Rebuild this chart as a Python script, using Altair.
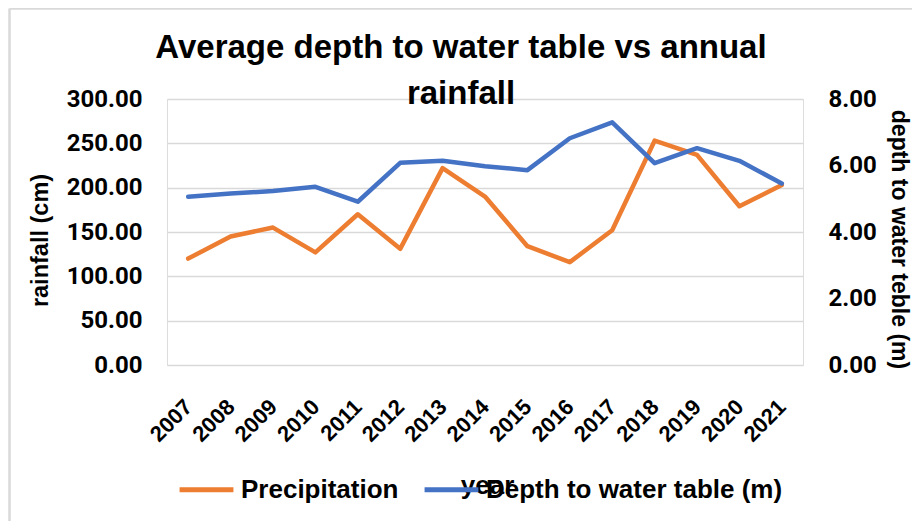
import altair as alt
import pandas as pd

years = ["2007", "2008", "2009", "2010", "2011", "2012", "2013", "2014",
         "2015", "2016", "2017", "2018", "2019", "2020", "2021"]
precipitation = [120, 145, 155, 127, 170, 131, 222, 190, 134, 116, 152, 253, 237, 179, 203]
depth = [5.06, 5.16, 5.23, 5.36, 4.91, 6.08, 6.14, 5.98, 5.86, 6.82, 7.30, 6.07, 6.52, 6.14, 5.46]
series_names = ["Precipitation", "Depth to water table (m)"]
series_colors = ["#ED7D31", "#4472C4"]
rain_ticks = [0, 50, 100, 150, 200, 250, 300]
depth_ticks = [0, 2, 4, 6, 8]
title_lines = ["Average depth to water table vs annual", "rainfall"]

df = pd.DataFrame({
    "year": years + years,
    "value": precipitation + depth,
    "series": [series_names[0]] * len(years) + [series_names[1]] * len(years),
})

BOLD = "Liberation Sans, Arial, sans-serif"
NUM = "Roboto, Liberation Sans, sans-serif"

color = alt.Color(
    "series:N",
    scale=alt.Scale(domain=series_names, range=series_colors),
    legend=alt.Legend(
        title=None, orient="none", legendX=10, legendY=361, direction="horizontal",
        symbolType="stroke", symbolSize=2900, symbolStrokeWidth=5,
        labelFont=BOLD, labelFontSize=26, labelFontWeight="bold", labelColor="black",
        labelOffset=5, columnPadding=15, labelLimit=400,
    ),
)

x = alt.X(
    "year:O", sort=years,
    axis=alt.Axis(
        title="year", titleFont=BOLD, titleFontSize=26, titleFontWeight="bold",
        titleColor="black", titleX=320, titleY=120, titleBaseline="middle", titleAlign="center",
        labelAngle=-45, labelAlign="right", labelBaseline="middle", labelFont=BOLD,
        labelFontSize=22, labelFontWeight="bold", labelColor="black", labelPadding=38,
        ticks=False, domain=False, grid=False,
    ),
)

base = alt.Chart(df)

rain = base.transform_filter(alt.datum.series == series_names[0]).mark_line(
    strokeWidth=4.5, strokeJoin="round", strokeCap="round"
).encode(
    x=x,
    y=alt.Y("value:Q", scale=alt.Scale(domain=[0, 300], nice=False, zero=True),
            axis=alt.Axis(
                orient="left", values=rain_ticks, format=".2f", title="rainfall (cm)",
                labelFont=NUM, labelFontSize=24, labelFontWeight="bold", labelColor="black",
                labelPadding=25, ticks=False, domain=False, grid=True,
                gridColor="#d9d9d9", gridWidth=1.5,
                titleFont=BOLD, titleFontSize=23.5, titleFontWeight="bold", titleColor="black",
                titlePadding=14, titleY=141,
            )),
    color=color,
)

dep = base.transform_filter(alt.datum.series == series_names[1]).mark_line(
    strokeWidth=4.5, strokeJoin="round", strokeCap="round"
).encode(
    x=x,
    y=alt.Y("value:Q", scale=alt.Scale(domain=[0, 8], nice=False, zero=True),
            axis=alt.Axis(
                orient="right", values=depth_ticks, format=".2f", title="depth to water teble (m)",
                labelFont=NUM, labelFontSize=24, labelFontWeight="bold", labelColor="black",
                labelPadding=25, ticks=False, domain=False, grid=False,
                titleFont=BOLD, titleFontSize=23, titleFontWeight="bold", titleColor="black",
                titlePadding=10, titleY=140,
            )),
    color=color,
)

frame = pd.DataFrame({"k": [0]})
left_border = alt.Chart(frame).mark_rule(color="#d9d9d9", strokeWidth=2.5).encode(
    x=alt.value(-157.5), y=alt.value(-90.5), y2=alt.value(430)
)
top_border = alt.Chart(frame).mark_rule(color="#d9d9d9", strokeWidth=2.5).encode(
    x=alt.value(-157.5), x2=alt.value(760), y=alt.value(-90.5)
)
title1 = alt.Chart(frame).mark_text(
    font=BOLD, fontSize=33, fontWeight="bold", color="black",
    align="center", baseline="alphabetic",
).encode(x=alt.value(294), y=alt.value(-41), text=alt.value(title_lines[0]))
title2 = alt.Chart(frame).mark_text(
    font=BOLD, fontSize=33, fontWeight="bold", color="black",
    align="center", baseline="alphabetic",
).encode(x=alt.value(294), y=alt.value(5), text=alt.value(title_lines[1]))

chart = alt.layer(left_border, top_border, rain, dep, title1, title2).resolve_scale(
    y="independent"
).properties(
    width=636, height=266,
    autosize=alt.AutoSizeParams(type="none"),
    padding={"left": 159, "top": 91, "right": 109, "bottom": 156},
).configure_view(stroke=None).configure(background="white")

chart.save("out.html", embed_options={"renderer": "svg", "actions": False})
